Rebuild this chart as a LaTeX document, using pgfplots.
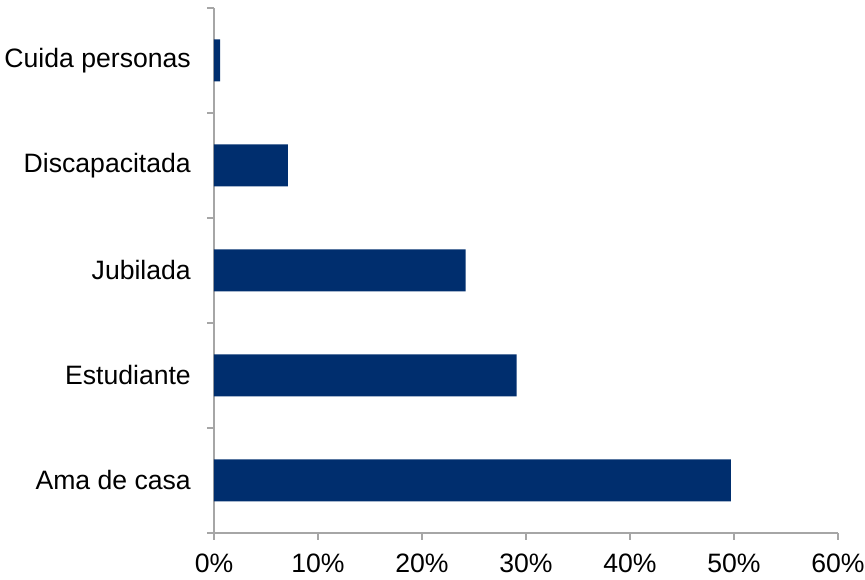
\documentclass[border=0pt]{standalone}
\usepackage{pgfplots}
\pgfplotsset{compat=1.18}
\usepackage{fontspec}
\setmainfont{Liberation Sans}
\definecolor{barblue}{RGB}{0,46,110}
\definecolor{axgray}{RGB}{166,166,166}
\begin{document}
\begin{tikzpicture}
\begin{axis}[
  name=ax,
  scale only axis,
  width=624bp, height=525bp,
  xbar, bar width=0.4,
  xmin=0, xmax=60,
  ymin=-0.5, ymax=4.5,
  axis x line*=bottom, axis y line*=left,
  axis line style={axgray, line width=1.5pt},
  xtick={0,10,...,60},
  xticklabel={\pgfmathprintnumber{\tick}\%},
  ytick={0,1,2,3,4},
  yticklabels={Ama de casa,Estudiante,Jubilada,Discapacitada,Cuida personas},
  minor ytick={-0.5,0.5,1.5,2.5,3.5,4.5},
  tick align=outside,
  major tick length=7bp,
  minor tick length=7bp,
  x tick style={axgray, line width=1.5pt},
  y tick style={draw=none},
  minor y tick style={draw=axgray, line width=1.5pt},
  /pgf/number format/assume math mode=true,
  tick label style={font=\fontsize{26.7}{30}\selectfont, text=black},
  yticklabel style={inner sep=0pt, anchor=east, xshift=-16bp},
  xticklabel style={inner sep=0pt, anchor=north, yshift=-14bp},
  enlargelimits=false,
  clip=false,
]
\addplot[fill=barblue, draw=none] coordinates {
  (49.7,0) (29.1,1) (24.2,2) (7.1,3) (0.6,4)
};
\end{axis}
\path[use as bounding box] ([shift={(-214bp,-47bp)}]ax.south west) rectangle ([shift={(27bp,8bp)}]ax.north east);
\end{tikzpicture}
\end{document}
